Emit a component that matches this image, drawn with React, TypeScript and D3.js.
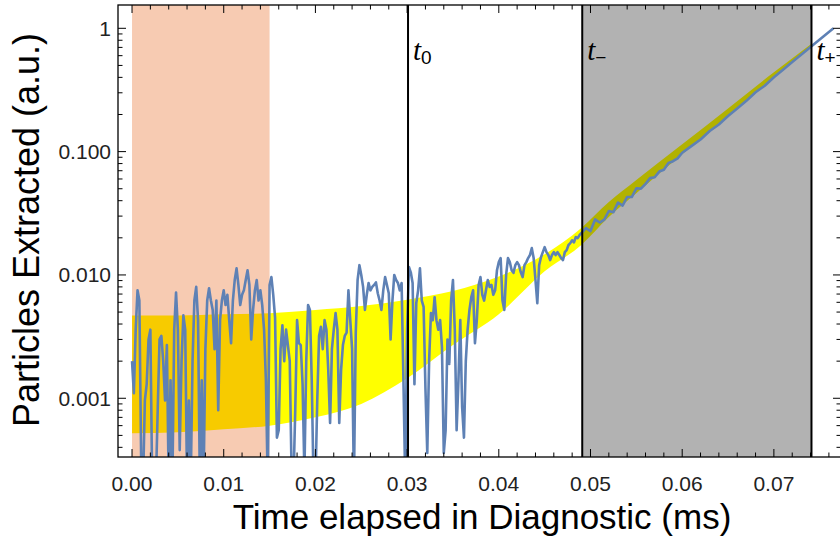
import React from "react";
import * as d3 from "d3";

// ---------- data ----------
// Noisy measured signal, sampled on a regular grid from t = 0 ms
const noisyStart = 0;
const noisyStep = 0.0002;
const noisyValues = [
  0.0020, 0.0011, 0.0036, 0.0075, 0.0062, 0.0003, 0.0002, 0.00096, 0.0013, 0.0030,
  0.0036, 0.0002, 0.0003, 0.0002, 0.0008, 0.0030, 0.0032, 0.0020, 0.00096, 0.0027,
  0.0002, 0.0014, 0.0002, 0.0036, 0.0072, 0.0036, 0.00038, 0.0020, 0.0047, 0.0036,
  0.0002, 0.00096, 0.0002, 0.0020, 0.0062, 0.0080, 0.0043, 0.0002, 0.0014, 0.0002,
  0.0025, 0.0062, 0.0078, 0.0062, 0.0052, 0.0025, 0.0062, 0.0008, 0.0043, 0.0062,
  0.0075, 0.0057, 0.0069, 0.0043, 0.0028, 0.0062, 0.0091, 0.0113, 0.0083, 0.0057,
  0.0069, 0.0075, 0.0091, 0.0109, 0.0083, 0.0030, 0.0052, 0.0075, 0.0091, 0.0062,
  0.0075, 0.0057, 0.0036, 0.0014, 0.0002, 0.0083, 0.0096, 0.0069, 0.0045, 0.00048,
  0.00055, 0.0025, 0.0039, 0.0020, 0.0036, 0.0027, 0.0020, 0.00025, 0.0002, 0.0008,
  0.0043, 0.0028, 0.0027, 0.0013, 0.00025, 0.0020, 0.0057, 0.0052, 0.0014, 0.0002,
  0.0002, 0.00096, 0.0032, 0.0038, 0.0025, 0.0043, 0.0036, 0.0017, 0.00063, 0.0025,
  0.0036, 0.0049, 0.0036, 0.00063, 0.0017, 0.0027, 0.0032, 0.0034, 0.0075, 0.0043,
  0.0025, 0.0002, 0.0034, 0.0091, 0.0120, 0.0100, 0.0080, 0.0052, 0.0069, 0.0086,
  0.0075, 0.0080, 0.0083, 0.0087, 0.0071, 0.0062, 0.0052, 0.0075, 0.0096, 0.0083,
  0.0071, 0.0030, 0.0062, 0.0100, 0.0091, 0.0086, 0.0075, 0.0086, 0.0014, 0.0002,
  0.0036, 0.0116, 0.0105, 0.0086, 0.0013, 0.0059, 0.0075, 0.0113, 0.0062, 0.0055,
  0.0012, 0.00036, 0.0020, 0.0049, 0.0043, 0.0066, 0.0043, 0.0036, 0.0043, 0.0026,
  0.00036, 0.00055, 0.0030, 0.0019, 0.0062, 0.0091, 0.0036, 0.00055, 0.0014, 0.0043,
  0.00085, 0.00048, 0.0020, 0.0036, 0.0052, 0.0066, 0.0075, 0.0028, 0.0043, 0.0083,
  0.0096, 0.0069, 0.0062, 0.0075, 0.0091, 0.0080, 0.0083, 0.0069, 0.0075, 0.0109,
  0.0127, 0.0137, 0.0062, 0.0052, 0.0100, 0.0137, 0.0127, 0.0109, 0.0104, 0.0120,
  0.0127, 0.0120, 0.0105, 0.0096, 0.0120, 0.0127, 0.0137, 0.0145, 0.0165, 0.0137,
  0.0091, 0.0059, 0.0120, 0.0139, 0.0153, 0.0168, 0.0153, 0.0145, 0.0132, 0.0145,
  0.0153, 0.0145, 0.0153, 0.0145, 0.0137, 0.0132, 0.0153, 0.0159, 0.0175, 0.0181,
  0.0191, 0.0184, 0.0203, 0.0199, 0.0210, 0.0218,
];

// Signal after t- (exponential growth region)
const tailTimes = [
  0.0495, 0.05, 0.0505, 0.051, 0.0515, 0.052, 0.0525, 0.053, 0.0535, 0.054,
  0.0545, 0.055, 0.0555, 0.056, 0.0565, 0.057, 0.0575, 0.058, 0.0585, 0.059,
  0.0595, 0.06, 0.061, 0.062, 0.063, 0.064, 0.065, 0.066, 0.067, 0.068,
  0.069, 0.07, 0.071, 0.072, 0.073, 0.074, 0.075, 0.0765,
];
const tailValues = [
  0.0240, 0.0227, 0.0282, 0.0266, 0.0281, 0.0330, 0.0323, 0.0386, 0.0365, 0.0429,
  0.0428, 0.0504, 0.0501, 0.0548, 0.0610, 0.0619, 0.0689, 0.0713, 0.0809, 0.0836,
  0.0881, 0.0980, 0.1107, 0.1253, 0.147, 0.166, 0.1945, 0.224, 0.258, 0.303,
  0.342, 0.401, 0.461, 0.532, 0.612, 0.705, 0.811, 1.0,
];

// Model band (yellow)
const bandTimes = [0, 0.005, 0.01, 0.015, 0.02, 0.025, 0.03, 0.035, 0.04, 0.045, 0.049, 0.052, 0.055, 0.06, 0.065, 0.07, 0.0741];
const bandUpper = [0.0047, 0.0047, 0.0048, 0.0049, 0.0052, 0.0056, 0.0063, 0.0074, 0.0097, 0.0147, 0.024, 0.039, 0.059, 0.115, 0.224, 0.44, 0.75];
const bandLower = [0.00052, 0.00053, 0.00056, 0.0006, 0.0007, 0.0009, 0.00145, 0.0027, 0.0048, 0.0107, 0.0175, 0.0295, 0.046, 0.095, 0.196, 0.405, 0.728];

// Axis ticks
const xTicks = [0, 0.01, 0.02, 0.03, 0.04, 0.05, 0.06, 0.07];
const xTickLabels = ["0.00", "0.01", "0.02", "0.03", "0.04", "0.05", "0.06", "0.07"];
const yTicks = [0.001, 0.01, 0.1, 1];
const yTickLabels = ["0.001", "0.010", "0.100", "1"];

// Shaded regions and markers
const pinkRange = [0, 0.015];
const grayRange = [0.0491, 0.0741];
const markerTimes = [0.0301, 0.0491, 0.0741];
const markerSubs = ["0", "\u2212", "+"];

// ---------- layout ----------
const W = 840;
const H = 537;
const plotLeft = 118;
const plotRight = 841;
const plotTop = 5;
const plotBottom = 457;

const sans = "'Liberation Sans', Arial, Helvetica, sans-serif";
const serif = "'Liberation Serif', 'Times New Roman', serif";

export default function App() {
  const x = d3.scaleLinear().domain([-0.00153, 0.07732]).range([plotLeft, plotRight]);
  const y = d3.scaleLog().domain([3.34e-4, 1.545]).range([plotBottom, plotTop]);

  const linePts: [number, number][] = [
    ...noisyValues.map((v, i) => [noisyStart + i * noisyStep, v] as [number, number]),
    ...tailTimes.map((t, i) => [t, tailValues[i]] as [number, number]),
  ];
  const lineGen = d3
    .line<[number, number]>()
    .x((d) => x(d[0]))
    .y((d) => y(d[1]));

  const bandGen = d3
    .area<number>()
    .x((i) => x(bandTimes[i]))
    .y0((i) => y(bandLower[i]))
    .y1((i) => y(bandUpper[i]))
    .curve(d3.curveMonotoneX);

  const xMinor = d3.range(0, 0.0771, 0.002).filter((t) => Math.abs(t / 0.01 - Math.round(t / 0.01)) > 1e-6);
  const yMinor: number[] = [];
  [-4, -3, -2, -1, 0].forEach((e) => {
    for (let k = 2; k <= 9; k++) {
      const v = k * Math.pow(10, e);
      const [lo, hi] = y.domain();
      if (v > lo && v < hi) yMinor.push(v);
    }
  });

  const majorLen = 8;
  const minorLen = 4.5;

  return (
    <svg
      width={W}
      height={H}
      viewBox={`0 0 ${W} ${H}`}
      style={{ position: "absolute", left: 0, top: 0, display: "block", background: "#fff" }}
    >
      <defs>
        <clipPath id="plotClip">
          <rect x={plotLeft} y={plotTop} width={plotRight - plotLeft} height={plotBottom - plotTop} />
        </clipPath>
      </defs>
      <rect x={0} y={0} width={W} height={H} fill="#fff" />

      <g clipPath="url(#plotClip)">
        {/* model band */}
        <path d={bandGen(d3.range(bandTimes.length)) || ""} fill="#FFFF00" />
        {/* shaded regions */}
        <rect
          x={x(pinkRange[0])}
          y={plotTop}
          width={x(pinkRange[1]) - x(pinkRange[0])}
          height={plotBottom - plotTop}
          fill="rgb(228,82,0)"
          fillOpacity={0.3}
        />
        <rect
          x={x(grayRange[0])}
          y={plotTop}
          width={x(grayRange[1]) - x(grayRange[0])}
          height={plotBottom - plotTop}
          fill="#000"
          fillOpacity={0.3}
        />
        {/* signal */}
        <path
          d={lineGen(linePts) || ""}
          fill="none"
          stroke="#5E81B5"
          strokeWidth={2.6}
          strokeLinejoin="round"
        />
        {/* marker lines */}
        {markerTimes.map((t, i) => (
          <line key={i} x1={x(t)} x2={x(t)} y1={plotTop} y2={plotBottom} stroke="#000" strokeWidth={2} />
        ))}
      </g>

      {/* marker labels */}
      {markerTimes.map((t, i) => (
        <text key={i} x={x(t) + 5} y={60} fontFamily={serif} fontStyle="italic" fontSize={29} fill="#000">
          t
          <tspan fontFamily={sans} fontStyle="normal" fontSize={19} dy={4}>
            {markerSubs[i]}
          </tspan>
        </text>
      ))}

      {/* frame */}
      <rect
        x={plotLeft}
        y={plotTop}
        width={plotRight - plotLeft}
        height={plotBottom - plotTop}
        fill="none"
        stroke="#000"
        strokeWidth={1.3}
      />

      {/* ticks */}
      <g stroke="#000" strokeWidth={1}>
        {xTicks.map((t, i) => (
          <g key={"xM" + i}>
            <line x1={x(t)} x2={x(t)} y1={plotBottom} y2={plotBottom - majorLen} />
            <line x1={x(t)} x2={x(t)} y1={plotTop} y2={plotTop + majorLen} />
          </g>
        ))}
        {xMinor.map((t, i) => (
          <g key={"xm" + i}>
            <line x1={x(t)} x2={x(t)} y1={plotBottom} y2={plotBottom - minorLen} />
            <line x1={x(t)} x2={x(t)} y1={plotTop} y2={plotTop + minorLen} />
          </g>
        ))}
        {yTicks.map((v, i) => (
          <g key={"yM" + i}>
            <line x1={plotLeft} x2={plotLeft + majorLen} y1={y(v)} y2={y(v)} />
            <line x1={plotRight} x2={plotRight - majorLen} y1={y(v)} y2={y(v)} />
          </g>
        ))}
        {yMinor.map((v, i) => (
          <g key={"ym" + i}>
            <line x1={plotLeft} x2={plotLeft + minorLen} y1={y(v)} y2={y(v)} />
            <line x1={plotRight} x2={plotRight - minorLen} y1={y(v)} y2={y(v)} />
          </g>
        ))}
      </g>

      {/* tick labels */}
      {xTicks.map((t, i) => (
        <text key={"xl" + i} x={x(t)} y={491} textAnchor="middle" fontFamily={sans} fontSize={21} fill="#222">
          {xTickLabels[i]}
        </text>
      ))}
      {yTicks.map((v, i) => (
        <text
          key={"yl" + i}
          x={111}
          y={y(v)}
          dy="0.35em"
          textAnchor="end"
          fontFamily={sans}
          fontSize={21}
          fill="#222"
        >
          {yTickLabels[i]}
        </text>
      ))}

      {/* axis titles */}
      <text x={482} y={529} textAnchor="middle" fontFamily={sans} fontSize={35} fill="#000">
        Time elapsed in Diagnostic (ms)
      </text>
      <text
        transform={`translate(39, 230) rotate(-90)`}
        textAnchor="middle"
        fontFamily={sans}
        fontSize={36}
        fill="#000"
      >
        Particles Extracted (a.u.)
      </text>
    </svg>
  );
}
